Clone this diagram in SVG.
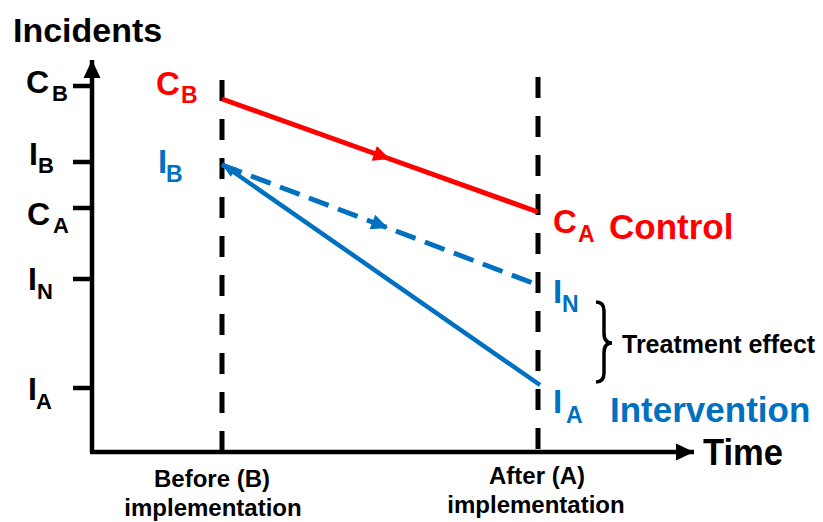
<svg xmlns="http://www.w3.org/2000/svg" width="823" height="522" viewBox="0 0 823 522">
<style>
text{font-family:"Liberation Sans",Arial,sans-serif;font-weight:bold}
.k{fill:#000}.r{fill:#FF0000}.b{fill:#0070C0}
.m{font-size:32px}.s{font-size:22px}
.guide{stroke:#000;stroke-width:5;stroke-dasharray:21 18;fill:none}
.axis{stroke:#000;stroke-width:4.5;fill:none}
.tick{stroke:#000;stroke-width:4.5}
</style>
<defs>
<marker id="ak" markerUnits="userSpaceOnUse" markerWidth="20" markerHeight="20" viewBox="-18 -9 20 18" refX="0" refY="0" orient="auto"><path d="M0,0 L-18,-8.5 L-18,8.5 Z" fill="#000"/></marker>
<marker id="ar" markerUnits="userSpaceOnUse" markerWidth="20" markerHeight="20" viewBox="-16 -8 18 16" refX="0" refY="0" orient="auto"><path d="M0,0 L-15,-7 L-15,7 Z" fill="#FF0000"/></marker>
<marker id="ab" markerUnits="userSpaceOnUse" markerWidth="20" markerHeight="20" viewBox="-16 -8 18 16" refX="0" refY="0" orient="auto"><path d="M0,0 L-15,-7 L-15,7 Z" fill="#0070C0"/></marker>
<marker id="abs" markerUnits="userSpaceOnUse" markerWidth="20" markerHeight="20" viewBox="-16 -8 18 16" refX="0" refY="0" orient="auto-start-reverse"><path d="M0,0 L-13,-5 L-13,5 Z" fill="#0070C0"/></marker>
</defs>

<g id="axes">
<path class="axis" d="M92,452 V60" marker-end="url(#ak)"/>
<path class="axis" d="M90,452 H694" marker-end="url(#ak)"/>
<line class="tick" x1="73" y1="86" x2="92" y2="86"/>
<line class="tick" x1="73" y1="162" x2="92" y2="162"/>
<line class="tick" x1="73" y1="208" x2="92" y2="208"/>
<line class="tick" x1="73" y1="279" x2="92" y2="279"/>
<line class="tick" x1="73" y1="388" x2="92" y2="388"/>
<text class="k" x="13" y="42" font-size="34">Incidents</text>
<text class="k" x="703" y="465" font-size="36" textLength="80" lengthAdjust="spacingAndGlyphs">Time</text>
</g>

<g id="axis-labels">
<text class="k m" x="26" y="93">C</text><text class="k s" x="52" y="101">B</text>
<text class="k m" x="29" y="165">I</text><text class="k s" x="38" y="173">B</text>
<text class="k m" x="27" y="225">C</text><text class="k s" x="53" y="233">A</text>
<text class="k m" x="28" y="290">I</text><text class="k s" x="37" y="299">N</text>
<text class="k m" x="28" y="400">I</text><text class="k s" x="36" y="409">A</text>
</g>

<g id="guides">
<line class="guide" x1="222" y1="80" x2="222" y2="452"/>
<line class="guide" x1="538" y1="77" x2="538" y2="450"/>
</g>

<g id="connectors">
<path id="control-line" d="M222,99 L390,159 L538,212" stroke="#FF0000" stroke-width="5" fill="none" marker-mid="url(#ar)"/>
<path id="counterfactual-line" d="M222,165 L388,228 L538,285" stroke="#0070C0" stroke-width="5" fill="none" stroke-dasharray="21 10" marker-mid="url(#ab)"/>
<path id="intervention-line" d="M222,164 L540,385" stroke="#0070C0" stroke-width="4.5" fill="none" marker-start="url(#abs)"/>
</g>

<g id="node-CB">
<text class="r" x="156" y="95" font-size="33">C</text><text class="r" x="181" y="103" font-size="23">B</text>
</g>
<g id="node-IB">
<text class="b" x="158" y="173" font-size="33">I</text><text class="b" x="166" y="182" font-size="23">B</text>
</g>
<g id="node-CA">
<text class="r" x="553" y="233" font-size="33">C</text><text class="r" x="578" y="242" font-size="23">A</text>
<text class="r" x="609" y="239" font-size="35">Control</text>
</g>
<g id="node-IN">
<text class="b" x="553" y="303" font-size="33">I</text><text class="b" x="562" y="312" font-size="23">N</text>
</g>
<g id="node-IA">
<text class="b" x="553" y="413" font-size="33">I</text><text class="b" x="566" y="423" font-size="23">A</text>
<text class="b" x="610" y="422" font-size="35">Intervention</text>
</g>

<g id="treatment-effect">
<path d="M596,302 Q604,302 604,311 V333 Q604,343 612,343 Q604,343 604,353 V373 Q604,382 596,382" stroke="#000" stroke-width="3.5" fill="none"/>
<text class="k" x="622" y="353" font-size="25">Treatment effect</text>
</g>

<g id="time-labels">
<text class="k" x="212" y="487" font-size="24" text-anchor="middle">Before (B)</text>
<text class="k" x="213" y="516" font-size="24" text-anchor="middle">implementation</text>
<text class="k" x="537" y="484" font-size="24" text-anchor="middle">After (A)</text>
<text class="k" x="536" y="513" font-size="24" text-anchor="middle">implementation</text>
</g>
</svg>
